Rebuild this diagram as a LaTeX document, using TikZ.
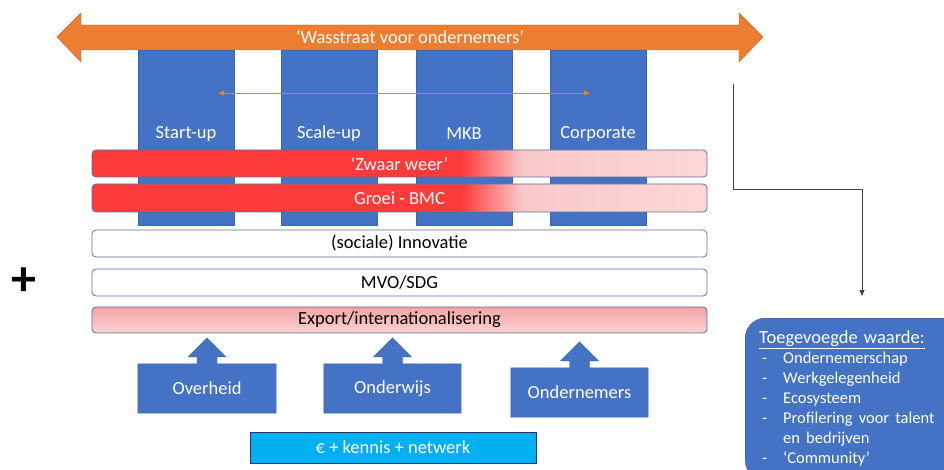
\documentclass[tikz,border=0pt]{standalone}
\usepackage{fontspec}
\setmainfont{Carlito}
\usetikzlibrary{arrows.meta,backgrounds}

\definecolor{kolomblauw}{HTML}{4472C4}
\definecolor{kolomrand}{HTML}{3B64AD}
\definecolor{waarderand}{HTML}{2F528F}
\definecolor{oranje}{HTML}{ED7D31}
\definecolor{oranjerand}{HTML}{C4661F}
\definecolor{rood}{HTML}{FF3A3A}
\definecolor{roze}{HTML}{F9C9C9}
\definecolor{rozelicht}{HTML}{FDD7D7}
\definecolor{balkrand}{HTML}{5A6E9E}
\definecolor{cyaan}{HTML}{00B0F0}
\definecolor{cyaanrand}{HTML}{1F3864}
\definecolor{exportboven}{HTML}{F4A3A3}
\definecolor{exportonder}{HTML}{FBD3D3}
\definecolor{lijn}{HTML}{404040}

\pgfdeclarehorizontalshading{weer}{100bp}{color(0bp)=(rood); color(55bp)=(rood);
  color(60bp)=(roze); color(75bp)=(rozelicht); color(100bp)=(rozelicht)}

\tikzstyle{Kolom} = [fill=kolomblauw, draw=kolomrand,
                     minimum width=96pt, minimum height=175pt]
\tikzstyle{Balk} = [draw=balkrand, line width=0.8pt, rounded corners=4pt,
                    minimum width=615pt, inner sep=0pt]
\tikzstyle{Blok} = [fill=kolomblauw, draw=kolomrand]
\tikzstyle{BlokTekst} = [text=white, minimum width=137pt, minimum height=49pt]

\newcommand{\pijlvorm}[1]{%
  \filldraw[Blok] (#1.south west) -- (#1.north west) -- ([xshift=-10pt]#1.north)
    -- ++(0,-7) -- ++(-9,0) -- ++(19,-19) -- ++(19,19) -- ++(-9,0) -- ++(0,7)
    -- (#1.north east) -- (#1.south east) -- cycle;}

\begin{document}
\begin{tikzpicture}[x=1pt, y=-1pt, font=\fontsize{18.5}{22}\selectfont]

	\useasboundingbox (0,0) rectangle (944,470);
	\clip (0,0) rectangle (944,470);

	% Kolommen
	\node(startup) at (186,137.5) [Kolom, label={[text=white, yshift=4pt]center:Start-up}]{};
	\node(scaleup) at (329,137.5) [Kolom, label={[text=white, yshift=4pt]center:Scale-up}]{};
	\node(mkb) at (464,137.5) [Kolom, label={[text=white, yshift=4pt]center:MKB}]{};
	\node(corporate) at (598,137.5) [Kolom, label={[text=white, yshift=4pt]center:Corporate}]{};

	% Wasstraat
	\filldraw[fill=oranje, draw=oranjerand] (57,37) -- (81,13) -- (81,25) -- (739,25) -- (739,13)
		-- (763,37) -- (739,62) -- (739,50) -- (81,50) -- (81,62) -- cycle;
	\node(wasstraat) at (410,37) [text=white]{‘Wasstraat voor ondernemers’};

	\coordinate (links) at (218,93);
	\coordinate (rechts) at (590,93);
	\draw [{Triangle[length=6pt,width=5pt]}-{Triangle[length=6pt,width=5pt]}, oranje, line width=0.9pt] (links) -- (rechts);

	% Balken
	\node(weer) at (399.5,163.5) [Balk, shading=weer, minimum height=27pt, text=white]{‘Zwaar weer’};
	\node(groei) at (399.5,198) [Balk, shading=weer, minimum height=28pt, text=white]{Groei - BMC};
	\node(innovatie) at (399.5,243.5) [Balk, fill=white, minimum height=27pt]{(sociale) Innovatie};
	\node(mvo) at (399.5,282.5) [Balk, fill=white, minimum height=27pt]{MVO/SDG};
	\node(export) at (399.5,320) [Balk, top color=exportboven, bottom color=exportonder,
		minimum height=26pt]{Export/internationalisering};

	\node(plus) at (24,282) {\fontsize{50}{50}\selectfont\bfseries +};

	% Partijen
	\node(overheid) at (207,388.5) [BlokTekst, minimum width=138pt]{Overheid};
	\node(onderwijs) at (392.5,388.5) [BlokTekst]{Onderwijs};
	\node(ondernemers) at (579.5,392.5) [BlokTekst]{Ondernemers};
	\begin{scope}[on background layer]
		\pijlvorm{overheid}
		\pijlvorm{onderwijs}
		\pijlvorm{ondernemers}
	\end{scope}

	\node(middelen) at (393,447.5) [fill=cyaan, draw=cyaanrand, text=white,
		minimum width=286pt, minimum height=31pt]{€ + kennis + netwerk};

	% Toegevoegde waarde
	\node(waarde) at (745,318) [anchor=north west, fill=kolomblauw, draw=waarderand,
		rounded corners=20pt, text=white, text width=200pt, inner xsep=14pt,
		inner ysep=11pt, minimum height=162pt]{%
		\fontsize{16.5}{20}\selectfont
		\begin{tabular}{@{}p{24pt}@{}l@{}}
			\multicolumn{2}{@{}l@{}}{\fontsize{18.5}{21}\selectfont\underline{Toegevoegde waarde:}}\\
			\hspace{3pt}- & Ondernemerschap\\
			\hspace{3pt}- & Werkgelegenheid\\
			\hspace{3pt}- & Ecosysteem\\
			\hspace{3pt}- & Profilering voor talent\\
			 & en bedrijven\\
			\hspace{3pt}- & ‘Community’
		\end{tabular}};

	% Lijn
	\coordinate (lijnstart) at (733,84);
	\coordinate (lijnknik) at (862,189);
	\coordinate (lijneind) at (862,296);
	\draw [-{Triangle[length=6pt,width=5pt]}, lijn, line width=0.8pt] (lijnstart) |- (lijnknik) -- (lijneind);

\end{tikzpicture}
\end{document}
